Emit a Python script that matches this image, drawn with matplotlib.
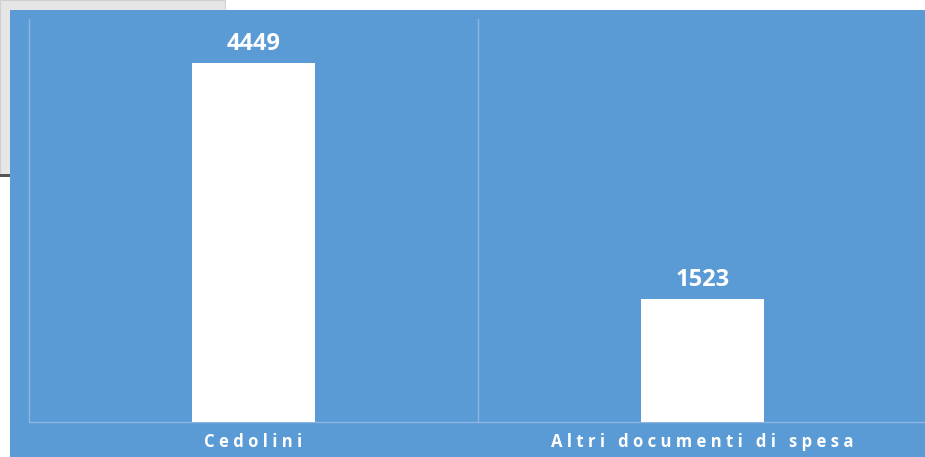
import matplotlib.pyplot as plt
from matplotlib.patches import Rectangle

categories = ['Cedolini', 'Altri documenti di spesa']
values = [4449, 1523]

blue = '#5b9bd5'
line_c = '#8db5e2'

fig = plt.figure(figsize=(9.25, 4.57), dpi=100)
fig.patch.set_facecolor('white')

# grey panel behind the chart (top-left corner)
fig.add_artist(Rectangle((0, 1 - 175/457), 225/925, 175/457, transform=fig.transFigure,
                         facecolor='#e6e6e6', edgecolor='#d0d0d0', linewidth=0.8, zorder=0))
fig.add_artist(Rectangle((0, 1 - 177/457), 12/925, 3/457, transform=fig.transFigure,
                         facecolor='#555555', edgecolor='none', zorder=0))
# blue chart background
fig.add_artist(Rectangle((10/925, 0), 915/925, 447/457, transform=fig.transFigure,
                         facecolor=blue, edgecolor='none', zorder=1))

ax = fig.add_axes([29/925, 35/457, 898/925, 403/457])
ax.set_facecolor('none')
ax.set_zorder(2)

x = range(len(categories))
ax.bar(x, values, width=0.272, color='white', zorder=3)
ax.set_xlim(-0.5, 1.5)
ax.set_ylim(0, 5000)

for xi, v in zip(x, values):
    ax.text(xi, v + 90, str(v), ha='center', va='bottom', color='white',
            fontsize=17, fontweight='bold', family=['Open Sans', 'DejaVu Sans'])

# separator between categories
ax.axvline(0.5, color=line_c, linewidth=1, zorder=1)

def spaced(s):
    return '   '.join(' '.join(w) for w in s.split(' '))

ax.set_xticks(list(x))
ax.set_xticklabels([spaced(c) for c in categories], color='white', fontsize=12,
                   fontweight='bold', family=['Open Sans', 'DejaVu Sans'])
ax.tick_params(axis='x', length=0, pad=8)
ax.set_yticks([])

for s in ['top', 'right']:
    ax.spines[s].set_visible(False)
for s in ['left', 'bottom']:
    ax.spines[s].set_color(line_c)
    ax.spines[s].set_linewidth(1)

fig.savefig('out.png', dpi=100)
